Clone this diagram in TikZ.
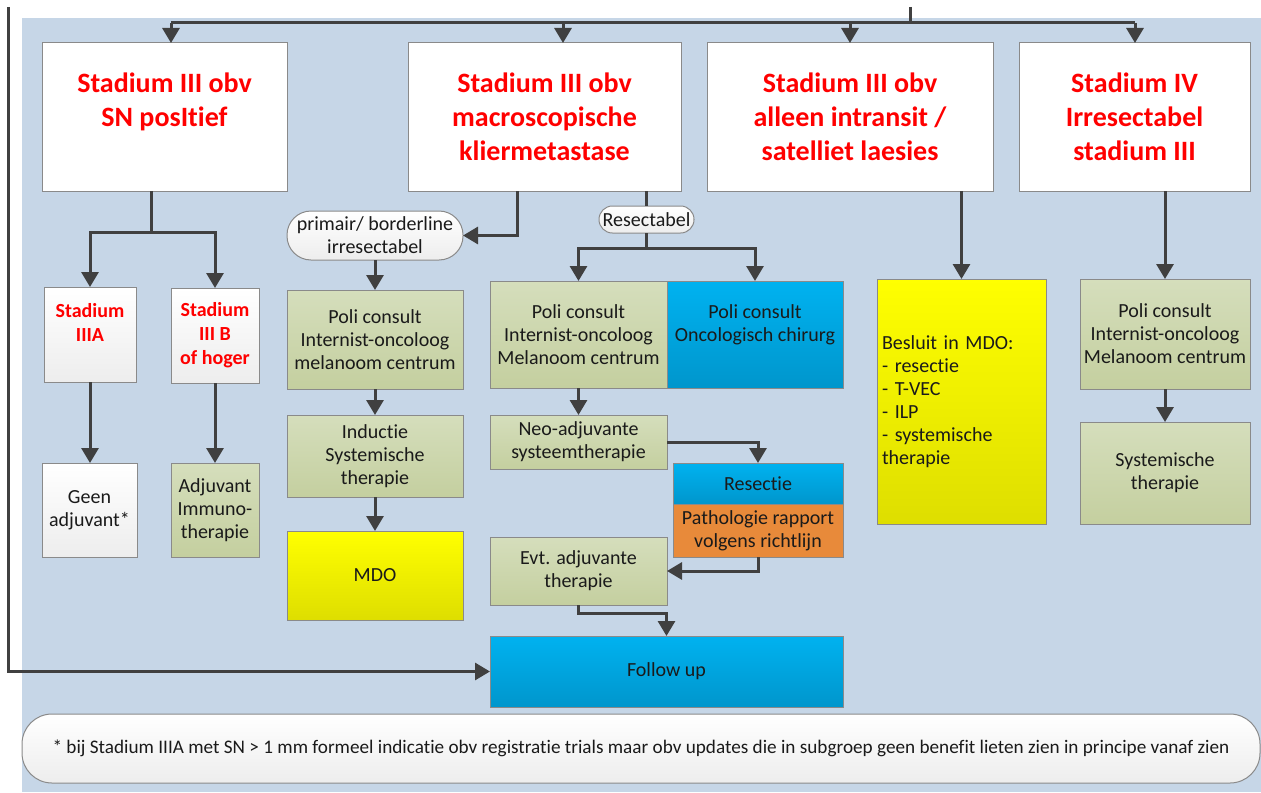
\documentclass[tikz,border=0pt]{standalone}
\usepackage{fontspec}
\setmainfont{Carlito}[Ligatures=NoCommon]
\usetikzlibrary{arrows.meta}
\definecolor{bg}{HTML}{C6D6E7}
\definecolor{frame}{HTML}{8A8A8A}
\definecolor{ink}{HTML}{1A1A1A}
\definecolor{wire}{HTML}{404040}
\definecolor{greent}{HTML}{D5DEBC}
\definecolor{greenb}{HTML}{C4CF9F}
\definecolor{bluet}{HTML}{00B2F0}
\definecolor{blueb}{HTML}{0096CC}
\definecolor{yelt}{HTML}{FFFF00}
\definecolor{yelb}{HTML}{DEDE00}
\definecolor{oranje}{HTML}{E88A3A}
\definecolor{pale}{HTML}{EDEDED}
\tikzset{box/.style={draw=frame,line width=.5pt,inner sep=0pt,outer sep=0pt,align=center,
 text=ink,font=\fontsize{10}{11.5}\selectfont},
 stage/.style={box,fill=white,text=red,font=\fontsize{14}{17}\selectfont\bfseries},
 substage/.style={box,top color=white,bottom color=pale,text=red,font=\fontsize{10}{12}\selectfont\bfseries},
 plain/.style={box,top color=white,bottom color=pale},
 gbox/.style={box,top color=greent,bottom color=greenb},
 bbox/.style={box,top color=bluet,bottom color=blueb},
 ybox/.style={box,top color=yelt,bottom color=yelb},
 obox/.style={box,fill=oranje},
 pill/.style={box,top color=white,bottom color=pale},
 ln/.style={line width=1.5pt,draw=wire},
 arr/.style={ln,-{Triangle[length=7.5pt,width=8.5pt]}}}
\begin{document}
\begin{tikzpicture}[x=.5pt,y=-.5pt]
\useasboundingbox (0,0) rectangle (1261,792);
\fill[bg] (22,18) rectangle (1261,792);
% stages
\node[stage,minimum width=122.5pt,minimum height=74pt] (stA) at (164.5,117) {Stadium III obv\\SN posItief\\\mbox{}};
\node[stage,minimum width=136.5pt,minimum height=74pt] (stB) at (544.5,117) {Stadium III obv\\macroscopische\\kliermetastase};
\node[stage,minimum width=143pt,minimum height=74pt] (stC) at (850,117) {Stadium III obv\\alleen intransit /\\satelliet laesies};
\node[stage,minimum width=115.5pt,minimum height=74pt] (stD) at (1134.5,117) {Stadium IV\\Irresectabel\\stadium III};
% left branch
\node[substage,minimum width=46pt,minimum height=47.5pt] (IIIA) at (90,334.5) {Stadium\\IIIA\\\mbox{}};
\node[substage,minimum width=44pt,minimum height=47.5pt] (IIIB) at (215,335.5) {Stadium\\III B\\of hoger};
\node[plain,minimum width=47.5pt,minimum height=47pt] (geen) at (89.5,510) {Geen\\adjuvant*};
\node[gbox,minimum width=44pt,minimum height=47pt] (adj) at (215,510) {Adjuvant\\Immuno-\\therapie};
% irresectabel
\node[pill,rounded corners=12pt,minimum width=88pt,minimum height=24.5pt] (irr) at (375,235.5) {primair/ borderline\\irresectabel};
\node[gbox,minimum width=88pt,minimum height=49.5pt] (poliL) at (375,339.5) {Poli consult\\Internist-oncoloog\\melanoom centrum};
\node[gbox,minimum width=88pt,minimum height=41pt] (ind) at (375,456) {Inductie\\Systemische\\therapie};
\node[ybox,minimum width=88pt,minimum height=44.5pt] (mdo) at (375,575.5) {MDO};
% resectabel
\node[pill,rounded corners=6.7pt,minimum width=47.5pt,minimum height=13.5pt] (res) at (646.5,219.5) {Resectabel};
\node[gbox,minimum width=88.5pt,minimum height=53.5pt] (poliM) at (578.5,334.5) {Poli consult\\Internist-oncoloog\\Melanoom centrum};
\node[bbox,minimum width=88pt,minimum height=53.5pt] (chir) at (755,334.5) {Poli consult\\Oncologisch chirurg\\\mbox{}};
\node[gbox,minimum width=88.5pt,minimum height=27pt] (neo) at (578.5,442) {Neo-adjuvante\\systeemtherapie};
\node[bbox,minimum width=85pt,minimum height=20.5pt] (resectie) at (758,483.5) {Resectie};
\node[obox,minimum width=85pt,minimum height=26.5pt] (path) at (758,530.5) {Pathologie rapport\\volgens richtlijn};
\node[gbox,minimum width=88.5pt,minimum height=34pt] (evt) at (578.5,571) {Evt. adjuvante\\therapie};
\node[bbox,minimum width=176.5pt,minimum height=35.5pt] (follow) at (666.5,671.5) {Follow up};
% right side
\node[ybox,align=left,text width=79.5pt,minimum width=84.5pt,minimum height=122.5pt] (mdoR) at (961.5,401.5)
 {Besluit in MDO:\\- resectie\\- T-VEC\\- ILP\\- systemische\\therapie};
\node[gbox,minimum width=85pt,minimum height=55pt] (poliR) at (1165,334) {Poli consult\\Internist-oncoloog\\Melanoom centrum};
\node[gbox,minimum width=85pt,minimum height=51pt] (sys) at (1165,473) {Systemische\\therapie};
\node[pill,rounded corners=15pt,minimum width=619pt,minimum height=34.5pt,font=\fontsize{9.6}{11}\selectfont] (note) at (641,748.5)
 {* bij Stadium IIIA met SN > 1 mm formeel indicatie obv registratie trials maar obv updates die in subgroep geen benefit lieten zien in principe vanaf zien};
% connectors
\coordinate (top) at (910,7);
\coordinate (loop) at (8,7);
\foreach \x/\n in {171/stA,563/stB,850/stC,1135/stD}{
 \coordinate (bus\n) at (\x,23);
 \draw[arr] (bus\n) -- (bus\n |- \n.north);
}
\draw[ln] (top) -- (top |- busstA);
\draw[ln] (busstA) -- (busstD);
\coordinate (aout) at (151,191);
\draw[arr] (aout) -- ++(0,41) -| (IIIA.north);
\draw[arr] (aout) -- ++(0,41) -| (IIIB.north);
\draw[arr] (IIIA.south) -- (IIIA.south |- geen.north);
\draw[arr] (IIIB.south) -- (adj.north);
\coordinate (bl) at (517,191);
\coordinate (br) at (646,191);
\draw[arr] (bl) |- (irr.east);
\draw[ln] (br) -- (br |- res.north);
\draw[arr] (res.south) -- ++(0,15) -| (poliM.north);
\draw[arr] (res.south) -- ++(0,15) -| (chir.north);
\draw[arr] (irr.south) -- (poliL.north);
\draw[arr] (poliL.south) -- (ind.north);
\draw[arr] (ind.south) -- (mdo.north);
\draw[arr] (poliM.south) -- (neo.north);
\draw[arr] (neo.east) -| (resectie.north);
\draw[arr] (path.south) |- (evt.east);
\draw[arr] (evt.south) -- ++(0,8) -| (follow.north);
\draw[arr] (stC.south -| mdoR.north) -- (mdoR.north);
\draw[arr] (stD.south -| poliR.north) -- (poliR.north);
\draw[arr] (poliR.south) -- (sys.north);
\draw[arr] (loop) |- (follow.west);
\end{tikzpicture}
\end{document}
